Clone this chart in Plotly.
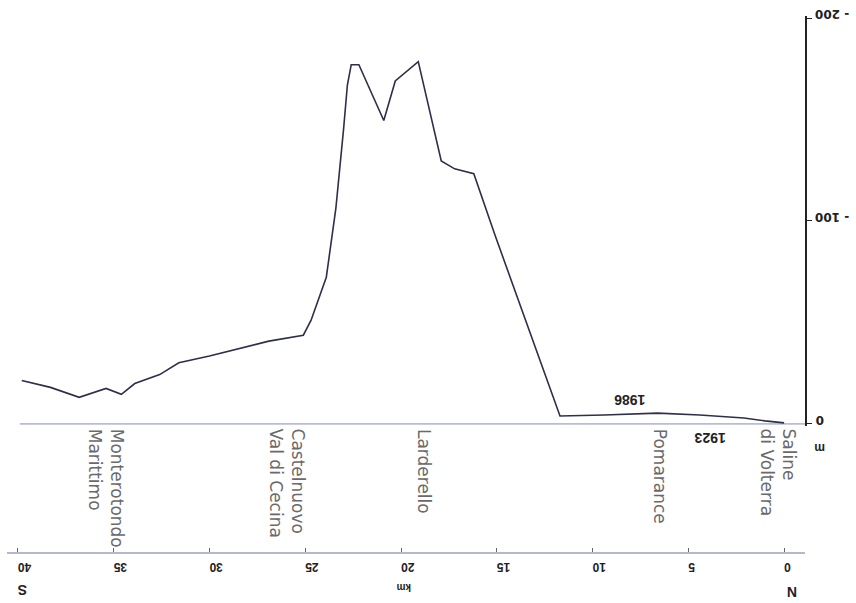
import plotly.graph_objects as go

# Profile 1986 (subsidence, m) vs distance (km)
km_1986 = [39.8, 38.3, 36.8, 35.4, 34.6, 33.9, 32.6, 31.6, 30.0, 26.9, 25.1, 24.7, 23.9,
           23.4, 23.0, 22.8, 22.6, 22.2, 20.9, 20.3, 19.1, 17.9, 17.2, 16.2, 15.1, 11.7,
           9.4, 6.6, 4.4, 2.1, 1.0, 0.0]
m_1986 = [21.4, 18.0, 13.1, 17.5, 14.6, 19.9, 24.3, 30.1, 33.5, 40.8, 43.7, 51.0, 72.3,
          106.3, 145.1, 167.0, 177.0, 177.0, 149.5, 169.0, 178.5, 129.6, 125.7, 123.3, 93.2, 3.9,
          4.4, 5.3, 4.4, 2.9, 1.5, 0.5]
# Reference level 1923
km_1923 = [39.9, -1.1]
m_1923 = [0, 0]

x_ticks = [0, 5, 10, 15, 20, 25, 30, 35, 40]
y_ticks = [0, 100, 200]
y_ticktext = ["\u00a0" * 6 + "0", "-\u00a0100", "-\u00a0200"]

towns = ["Saline<br>di Volterra", "Pomarance", "Larderello",
         "Castelnuovo<br>Val di Cecina", "Monterotondo<br>Marittimo"]
town_km = [0.3, 6.5, 18.83, 25.96, 35.42]

W, H = 856, 603
L, R, T, B = 7, 48, 8, 50
PW, PH = W - L - R, H - T - B

def px(x):
    return (x - L) / PW

def py(y):
    return (H - B - y) / PH

fig = go.Figure()
fig.add_trace(go.Scatter(x=km_1923, y=m_1923, mode="lines",
                         line=dict(color="#b9bdd3", width=1.6), hoverinfo="skip"))
fig.add_trace(go.Scatter(x=km_1986, y=m_1986, mode="lines",
                         line=dict(color="#2e2f48", width=1.6), hoverinfo="skip"))

ann = []
for t, k in zip(towns, town_km):
    ann.append(dict(text=t, x=k, xref="x", y=py(425), yref="paper", textangle=90,
                    xanchor="center", yanchor="top", align="left", showarrow=False,
                    font=dict(family="DejaVu Sans", size=17, color="#6a6a6a")))
for t, xx, yy, s in [("<b>1986</b>", 632, 397, 14), ("<b>1923</b>", 713, 437, 14),
                     ("<b>m</b>", 822, 447, 12), ("<b>km</b>", 405, 588, 10),
                     ("<b>S</b>", 22, 590, 14), ("<b>N</b>", 795, 592, 14)]:
    ann.append(dict(text=t, x=px(xx), y=py(yy), xref="paper", yref="paper",
                    xanchor="center", yanchor="middle",
                    textangle=180, showarrow=False,
                    font=dict(family="Liberation Sans", size=s, color="#222222")))

fig.update_layout(
    width=W, height=H, margin=dict(l=L, r=R, t=T, b=B),
    paper_bgcolor="white", plot_bgcolor="white", showlegend=False,
    annotations=ann,
    xaxis=dict(range=[40.57, -1.09], anchor="free", position=0,
               showgrid=False, zeroline=False, showline=True,
               linecolor="#b4b8cc", linewidth=1.5,
               tickvals=x_ticks, ticktext=["<b>%d</b>" % v for v in x_ticks],
               ticks="inside", ticklen=4, tickcolor="#666666", tickangle=180,
               ticklabelstandoff=7,
               tickfont=dict(family="Liberation Sans", size=12, color="#222222")),
    yaxis=dict(range=[-1, 201], domain=[py(424.06), 1], anchor="x", side="right",
               showgrid=False, zeroline=False, showline=True,
               linecolor="#222222", linewidth=1.5,
               tickvals=y_ticks, ticktext=["<b>%s</b>" % t for t in y_ticktext],
               ticks="outside", ticklen=5, tickcolor="#222222", tickangle=180,
               ticklabelstandoff=35, ticklabeloverflow="allow",
               tickfont=dict(family="DejaVu Sans", size=12, color="#222222")),
)

fig.write_html("out.html")
